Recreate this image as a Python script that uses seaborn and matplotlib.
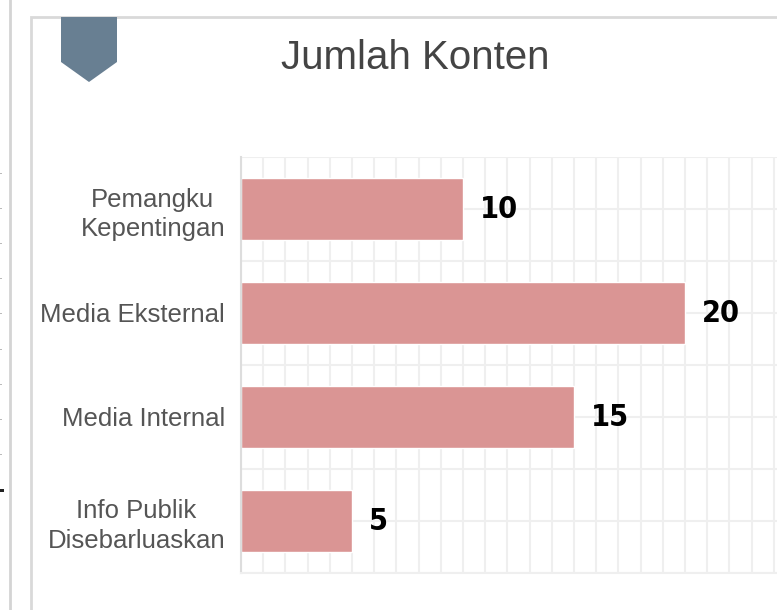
import pandas as pd
import matplotlib.pyplot as plt
import seaborn as sns
from matplotlib.patches import Polygon, Rectangle

sns.set_theme(style="white")
plt.rcParams['font.family'] = ['Liberation Sans', 'DejaVu Sans']

kategori = ['Pemangku\nKepentingan', 'Media Eksternal', 'Media Internal', 'Info Publik\nDisebarluaskan']
jumlah = [10, 20, 15, 5]

dfKonten = pd.DataFrame({'kategori': kategori, 'jumlah': jumlah})

W, H = 777, 610
fig = plt.figure(figsize=(W / 100, H / 100), dpi=100)


def px(x, y):
    return (x / W, 1 - y / H)


# panel kiri (terpotong) dan panel utama, digambar di belakang axes
fig.add_artist(Rectangle(px(-20, 640), 30 / W, 660 / H, transform=fig.transFigure,
                         facecolor='white', edgecolor='#d4d4d4', linewidth=2, zorder=-10))
fig.add_artist(Rectangle(px(31, 640), 800 / W, 623 / H, transform=fig.transFigure,
                         facecolor='white', edgecolor='#d9d9d9', linewidth=2, zorder=-10))
for yy in [173, 208, 243, 278, 313, 349, 384, 419, 454]:
    fig.add_artist(Rectangle(px(0, yy + 1), 2 / W, 1.2 / H, transform=fig.transFigure,
                             facecolor='#bbbbbb', edgecolor='none', zorder=-5))
fig.add_artist(Rectangle(px(0, 492), 3.5 / W, 3.5 / H, transform=fig.transFigure,
                         facecolor='#222222', edgecolor='none', zorder=-5))

# penanda bookmark
fig.add_artist(Polygon([px(61, 17), px(117, 17), px(117, 62), px(89, 82), px(61, 62)],
                       closed=True, transform=fig.transFigure,
                       facecolor='#687f92', edgecolor='none', zorder=-5))

fig.text(415 / W, 1 - 58 / H, "Jumlah Konten", ha='center', va='center',
         fontsize=29, color='#444444')

ax = fig.add_axes([241 / W, 1 - 573 / H, (796 - 241) / W, (573 - 157) / H])
ax.set_zorder(5)
sns.barplot(data=dfKonten, x='jumlah', y='kategori', orient='h',
            color='#da9594', width=0.6, saturation=1, ax=ax)

ax.set_xlim(0, 25)
ax.set_ylim(3.5, -0.5)
ax.set_xticks(range(0, 26))
ax.set_yticks([i * 0.5 - 0.5 for i in range(9)], minor=True)
ax.tick_params(axis='x', labelbottom=False, length=0)
ax.tick_params(axis='y', which='both', length=0, pad=11.5)
ax.grid(True, which='both', color='#efefef', linewidth=1.5)
ax.set_axisbelow(True)
for lbl in ax.get_yticklabels():
    lbl.set_multialignment('center')
    lbl.set_fontsize(18.5)
    lbl.set_color('#555555')
    lbl.set_linespacing(1.3)
ax.set_xlabel("")
ax.set_ylabel("")
for s in ['top', 'right']:
    ax.spines[s].set_visible(False)
ax.spines['left'].set_color('#dddddd')
ax.spines['left'].set_linewidth(1.5)
ax.spines['bottom'].set_color('#efefef')
ax.spines['bottom'].set_linewidth(1.5)

ax.bar_label(ax.containers[0], padding=12, fontsize=22, fontweight='bold',
             fontstretch='condensed', color='black', family=['DejaVu Sans'])

fig.savefig("out.png", dpi=100)
